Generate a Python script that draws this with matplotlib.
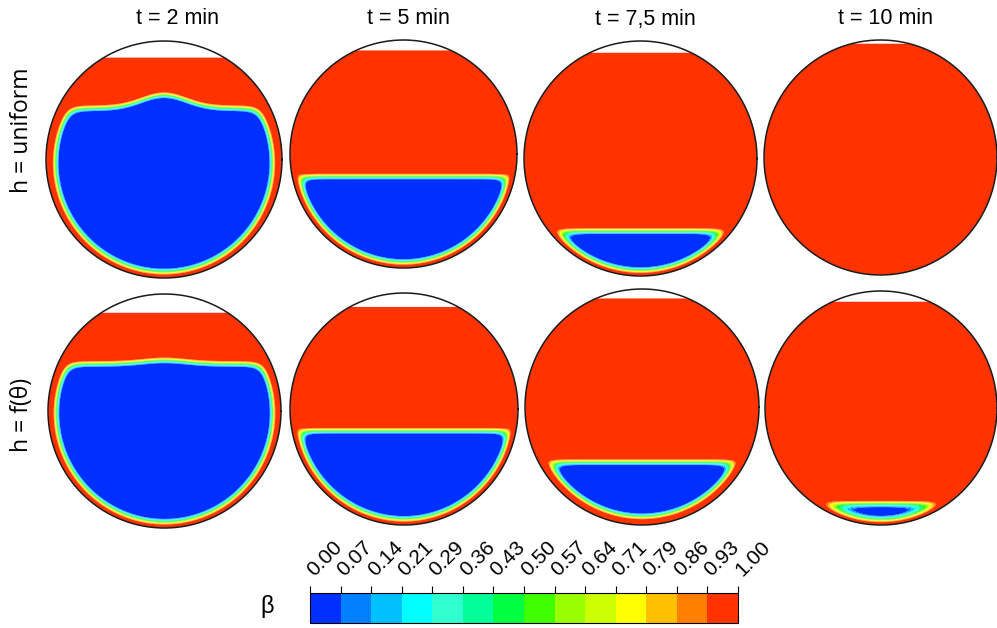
import numpy as np
import matplotlib

matplotlib.use("Agg")
import matplotlib.pyplot as plt
from matplotlib.cm import ScalarMappable
from matplotlib.colors import BoundaryNorm, ListedColormap


FIG_W, FIG_H = 997, 628

COLUMN_TITLES = ["t = 2 min", "t = 5 min", "t = 7,5 min", "t = 10 min"]
ROW_LABELS = ["h = uniform", "h = f(θ)"]

BETA_LEVELS = np.linspace(0.0, 1.0, 15)
BETA_COLORS = [
    "#0030ff", "#0080ff", "#00c0ff", "#00ffff", "#30ffd0", "#00ff99", "#00ff40",
    "#40ff00", "#99ff00", "#ccff00", "#ffff00", "#ffc000", "#ff8000", "#ff3300",
]

# heights are in pipe radii, measured from the pipe axis
FREE_SURFACE = [[0.86, 0.91, 0.90, 0.97], [0.84, 0.88, 0.92, 0.91]]
INTERFACE = [[0.46, -0.17, -0.59, None], [0.43, -0.16, -0.44, -0.79]]
CREST = [[0.11, 0.0, 0.0, 0.0], [0.03, 0.0, 0.0, 0.0]]
EDGE_RISE = [[0.0, 0.07, 0.05, 0.0], [0.0, 0.07, 0.07, 0.04]]
FILM_BOTTOM = [[0.025, 0.025, 0.022, 0.02], [0.025, 0.025, 0.045, 0.02]]
FILM_SIDE = [[0.06, 0.02, 0.02, 0.0], [0.04, 0.02, 0.02, 0.02]]

# pixel boxes (left, top, right, bottom) of each pipe section
PANEL_BOXES = [
    [(46, 41, 282, 278), (290, 40, 517, 268), (524, 41, 757, 276), (764, 40, 997, 275)],
    [(48, 294, 281, 528), (290, 293, 518, 525), (525, 289, 759, 525), (765, 291, 997, 525)],
]
TITLE_X = [177, 408, 645, 885]
ROW_LABEL_Y = [130, 415]

BAND = 0.055
CORNER = 0.04


def to_fig(x, y):
    return x / FIG_W, 1 - y / FIG_H


def beta_field(X, Y, row, col):
    level = INTERFACE[row][col]
    if level is None:
        return np.ones_like(X)
    r = np.hypot(X, Y)
    film = FILM_BOTTOM[row][col] + FILM_SIDE[row][col] * (Y + 1) / 2
    d_wall = r - (1 - film)

    film_lvl = FILM_BOTTOM[row][col] + FILM_SIDE[row][col] * (level + 1) / 2
    xw = np.sqrt(max((1 - film_lvl) ** 2 - level ** 2, 0.0))
    surf = (
        level
        + CREST[row][col] * np.exp(-(X / 0.27) ** 2)
        + EDGE_RISE[row][col] * np.exp(-np.abs(xw - np.abs(X)) / 0.025)
    )
    d_top = Y - surf
    d = CORNER * np.logaddexp(d_wall / CORNER, d_top / CORNER)
    return np.clip(1 + d / BAND, 0, 1)


def draw_panel(fig, row, col, cmap, norm):
    x0, y0, x1, y1 = PANEL_BOXES[row][col]
    left, top = to_fig(x0, y0)
    right, bottom = to_fig(x1, y1)
    ax = fig.add_axes([left, bottom, right - left, top - bottom])

    g = np.linspace(-1, 1, 700)
    X, Y = np.meshgrid(g, g)
    beta = beta_field(X, Y, row, col)
    outside = (np.hypot(X, Y) > 1.0) | (Y > FREE_SURFACE[row][col])
    beta = np.ma.masked_where(outside, beta)

    ax.contourf(X, Y, beta, levels=BETA_LEVELS, cmap=cmap, norm=norm, antialiased=True)
    t = np.linspace(0, 2 * np.pi, 400)
    ax.plot(np.cos(t), np.sin(t), color="#1a1a1a", lw=1.1, clip_on=False)
    ax.set_xlim(-1, 1)
    ax.set_ylim(-1, 1)
    ax.axis("off")


def main() -> None:
    fig = plt.figure(figsize=(FIG_W / 100, FIG_H / 100), dpi=100)
    cmap = ListedColormap(BETA_COLORS)
    norm = BoundaryNorm(BETA_LEVELS, cmap.N)

    for row in range(2):
        for col in range(4):
            draw_panel(fig, row, col, cmap, norm)

    for title, x in zip(COLUMN_TITLES, TITLE_X):
        fig.text(*to_fig(x, 19), title, ha="center", va="center", fontsize=15.5,
                 family=["Liberation Sans", "DejaVu Sans"])
    for label, y in zip(ROW_LABELS, ROW_LABEL_Y):
        fig.text(*to_fig(22, y), label, ha="center", va="center", rotation=90,
                 fontsize=16.5, family=["Open Sans", "DejaVu Sans"])

    # horizontal colour legend
    left, top = to_fig(310, 593)
    right, bottom = to_fig(738, 623)
    cax = fig.add_axes([left, bottom, right - left, top - bottom])
    cb = fig.colorbar(ScalarMappable(norm=norm, cmap=cmap), cax=cax, orientation="horizontal")
    cb.outline.set_linewidth(0.8)
    cax.set_xticks(BETA_LEVELS)
    cax.set_xticklabels([])
    cax.tick_params(axis="x", bottom=False, top=True, length=5, width=0.8, direction="out")
    for v in BETA_LEVELS:
        cax.text(v, 1.65, f"{v:.2f}", transform=cax.get_xaxis_transform(), rotation=45,
                 rotation_mode="anchor", ha="left", va="center", fontsize=15,
                 family=["Liberation Sans", "DejaVu Sans"])
    fig.text(*to_fig(267, 606), "β", ha="center", va="center", fontsize=17,
             family=["Liberation Sans", "DejaVu Sans"])

    fig.savefig("out.png", dpi=100)
    plt.close(fig)


if __name__ == "__main__":
    main()
